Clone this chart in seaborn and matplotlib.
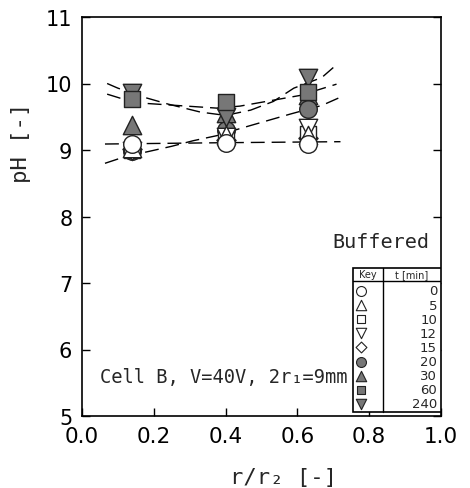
import numpy as np
import pandas as pd
import matplotlib
matplotlib.use("Agg")
import matplotlib.pyplot as plt
import seaborn as sns
from matplotlib.patches import Rectangle
from matplotlib.lines import Line2D

# ---------------- data ----------------
x_pos = [0.14, 0.40, 0.63]
times = ["0", "5", "10", "12", "15", "20", "30", "60", "240"]
ph_0 = [9.09, 9.10, 9.09]
ph_5 = [9.03, 9.22, 9.22]
ph_10 = [9.00, 9.18, 9.24]
ph_12 = [8.98, 9.20, 9.33]
ph_15 = [9.02, 9.15, 9.18]
ph_20 = [8.99, 9.30, 9.62]
ph_30 = [9.37, 9.55, 9.82]
ph_60 = [9.77, 9.72, 9.87]
ph_240 = [9.86, 9.49, 10.09]

# trend curves
curve_240_x = [0.07, 0.10, 0.175, 0.24, 0.33, 0.40, 0.47, 0.533, 0.59, 0.668, 0.70]
curve_240_y = [10.00, 9.93, 9.79, 9.69, 9.57, 9.52, 9.60, 9.73, 9.93, 10.09, 10.24]
curve_60_x = [0.07, 0.106, 0.18, 0.375, 0.44, 0.607, 0.709]
curve_60_y = [9.84, 9.78, 9.70, 9.63, 9.66, 9.82, 9.99]
curve_20_x = [0.064, 0.106, 0.175, 0.25, 0.31, 0.375, 0.445, 0.58, 0.668, 0.714]
curve_20_y = [8.80, 8.875, 8.965, 9.056, 9.14, 9.215, 9.33, 9.54, 9.67, 9.78]
curve_0_x = [0.064, 0.40, 0.72]
curve_0_y = [9.09, 9.11, 9.125]

x_ticks = [0.0, 0.2, 0.4, 0.6, 0.8, 1.0]
y_ticks = [5, 6, 7, 8, 9, 10, 11]

# ---------------- style ----------------
sns.set_style("ticks")
plt.rcParams["font.family"] = ["DejaVu Sans"]

W, H = 470, 489
fig = plt.figure(figsize=(W / 100, H / 100), dpi=100)
L, R, B, T = 82, 441, 417, 18
ax = fig.add_axes([L / W, 1 - B / H, (R - L) / W, (B - T) / H])

GRAY = "#777777"
EDGE = "#222222"
series = {
    "0": (ph_0, "o", "white"),
    "5": (ph_5, "^", "white"),
    "10": (ph_10, "s", "white"),
    "12": (ph_12, "v", "white"),
    "15": (ph_15, "D", "white"),
    "20": (ph_20, "o", GRAY),
    "30": (ph_30, "^", GRAY),
    "60": (ph_60, "s", GRAY),
    "240": (ph_240, "v", GRAY),
}
sizes = {"o": 160, "^": 175, "s": 125, "v": 175, "D": 95}

# trend curves
curves = [(curve_240_x, curve_240_y), (curve_60_x, curve_60_y),
          (curve_20_x, curve_20_y), (curve_0_x, curve_0_y)]
for cx, cy in curves:
    dfc = pd.DataFrame({"x": cx, "y": cy})
    sns.lineplot(data=dfc, x="x", y="y", ax=ax, color="black", lw=1.0,
                 sort=False, estimator=None, linestyle=(0, (10, 5)), zorder=2)

# markers (draw order chosen so overlap looks like the reference)
order = ["30", "20", "240", "60", "15", "10", "12", "5", "0"]
for k in order:
    vals, m, fc = series[k]
    dfm = pd.DataFrame({"x": x_pos, "y": vals})
    sns.scatterplot(data=dfm, x="x", y="y", ax=ax, marker=m, s=sizes[m],
                    facecolor=fc, edgecolor=EDGE, linewidth=1.0, zorder=3)

ax.set_xlim(0, 1.0)
ax.set_ylim(5, 11)
ax.set_xticks(x_ticks)
ax.set_xticklabels([f"{v:.1f}" for v in x_ticks])
ax.set_yticks(y_ticks)
ax.set_yticklabels([str(v) for v in y_ticks])
ax.tick_params(axis="both", direction="in", length=6, width=1.0,
               labelsize=15, colors="black")
ax.tick_params(axis="x", pad=7, labelsize=15.5)
ax.tick_params(axis="y", pad=7)
ax.tick_params(right=True, top=False)
for s in ax.spines.values():
    s.set_visible(True)
    s.set_linewidth(1.2)
    s.set_color("black")
ax.set_xlabel("")
ax.set_ylabel("")

mono = ["DejaVu Sans Mono", "DejaVu Sans"]
fig.text(283 / W, 1 - 478 / H, "r/r\u2082 [-]", ha="center", va="center",
         fontsize=16, family=mono)
fig.text(21 / W, 1 - 143 / H, "pH [-]", ha="center", va="center",
         rotation=90, fontsize=16, family=mono)


def px(x, y):
    """pixel -> axes fraction"""
    return ((x - L) / (R - L), (B - y) / (B - T))


# annotations
ax.text(*px(100, 378), "Cell B, V=40V, 2r\u2081=9mm", ha="left", va="center",
        fontsize=13.5, family=mono, transform=ax.transAxes)
ax.text(*px(381, 243), "Buffered", ha="center", va="center",
        fontsize=14.5, family=mono, transform=ax.transAxes)

# legend table
lx0, lx1, ly0, ly1 = 353, 441, 269, 413
x0, y0 = px(lx0, ly1)
x1, y1 = px(lx1, ly0)
ax.add_patch(Rectangle((x0, y0), x1 - x0, y1 - y0, transform=ax.transAxes,
                       facecolor="white", edgecolor="black", lw=1.2, zorder=5))
hx, hy = px(lx0, 282)
ax.add_line(Line2D([x0, x1], [hy, hy], transform=ax.transAxes, color="black",
                   lw=1.0, zorder=6))
dx, _ = px(383, 0)
ax.add_line(Line2D([dx, dx], [y0, y1], transform=ax.transAxes, color="black",
                   lw=1.0, zorder=6))
ax.text(*px(368, 275.5), "Key", ha="center", va="center", fontsize=7,
        transform=ax.transAxes, zorder=7)
ax.text(*px(412, 275.5), "t [min]", ha="center", va="center", fontsize=7,
        transform=ax.transAxes, zorder=7)
for i, k in enumerate(times):
    _, m, fc = series[k]
    yy = 292 + i * 14.1
    mx, my = px(361, yy)
    ax.scatter([mx], [my], transform=ax.transAxes, marker=m,
               s=sizes[m] * 0.32, facecolor=fc, edgecolor=EDGE, lw=0.8,
               zorder=7, clip_on=False)
    ax.text(*px(437, yy), k, ha="right", va="center", fontsize=9.5,
            transform=ax.transAxes, zorder=7)

fig.savefig("out.png", dpi=100, facecolor="white")
